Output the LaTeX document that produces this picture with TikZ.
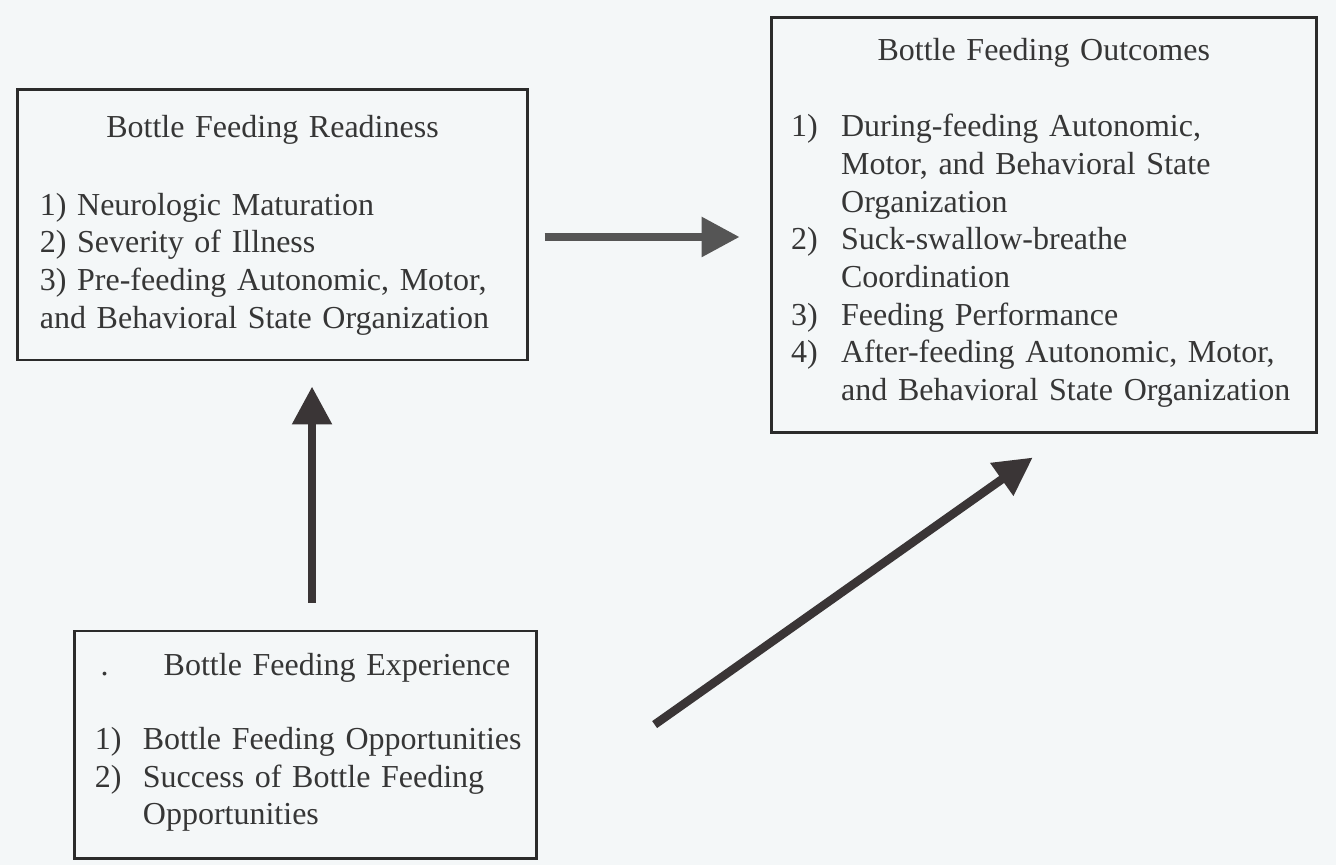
\documentclass[tikz,border=0pt]{standalone}
\usepackage{fontspec}
\setmainfont{Liberation Serif}[WordSpace=0.85]
\usetikzlibrary{arrows.meta,positioning}
\definecolor{paper}{HTML}{F4F7F8}
\definecolor{ink}{HTML}{363636}
\definecolor{frame}{HTML}{2B2B2B}
\definecolor{shaft}{HTML}{3A3536}
\definecolor{shaftgrey}{HTML}{555555}
\tikzset{%
        x = 0.01cm,
        y = 0.01cm,
        node distance = 2.5cm,
        box/.style = {
            draw = frame,
            line width = 0.8pt,
            text = ink,
            font = \fontsize{9.1}{10.7}\selectfont,
            align = left,
            inner ysep = 0pt
        },
        link/.style = {
            -{Triangle[length=0.38cm,width=0.38cm]},
            line width = 0.085cm,
            draw = shaft
        }
}

\begin{document}
\begin{tikzpicture}
        \fill[paper] (0,0) rectangle (1336,865);
        \node[box, minimum width=5.09cm, minimum height=2.70cm,
              text width=4.65cm, inner xsep=0.22cm] (ready) at (272.5,640)
        {\centerline{Bottle Feeding Readiness}\vspace{11.5pt}
         \noindent 1) Neurologic Maturation\\
         2) Severity of Illness\\
         3) Pre-feeding Autonomic, Motor,\\
         and Behavioral State Organization};
        \node[box, minimum width=5.45cm, minimum height=4.14cm,
              text width=5.05cm, inner xsep=0.20cm] (outcome) [right=2.41cm of ready]
        {\centerline{Bottle Feeding Outcomes}\vspace{11pt}
         \noindent\begin{tabular}[t]{@{}p{0.5cm}@{}l@{}}
         1) & During-feeding Autonomic,\\
            & Motor, and Behavioral State\\
            & Organization\\
         2) & Suck-swallow-breathe\\
            & Coordination\\
         3) & Feeding Performance\\
         4) & After-feeding Autonomic, Motor,\\
            & and Behavioral State Organization
         \end{tabular}};
        \node[box, minimum width=4.61cm, minimum height=2.27cm,
              text width=4.21cm, inner xsep=0.20cm] (exper) [below=2.68cm of ready, xshift=0.33cm]
        {\centerline{.\hspace{0.55cm}Bottle Feeding Experience}\vspace{10.5pt}
         \noindent\begin{tabular}[t]{@{}p{0.48cm}@{}l@{}}
         1) & Bottle Feeding Opportunities\\
         2) & Success of Bottle Feeding\\
            & Opportunities
         \end{tabular}};
        \path
        ([yshift=-0.12cm]ready.east) edge[link, draw=shaftgrey,
            shorten <=0.16cm, shorten >=0.30cm] ([yshift=-0.12cm]outcome.west)
        ([xshift=0.065cm]exper.north) edge[link,
            shorten <=0.27cm, shorten >=0.25cm] ([xshift=0.065cm]exper.north |- ready.south)
        ([xshift=1.17cm,yshift=0.2cm]exper.east) edge[link]
            ([xshift=-0.11cm,yshift=-0.24cm]outcome.south)
        ;
\end{tikzpicture}
\end{document}
